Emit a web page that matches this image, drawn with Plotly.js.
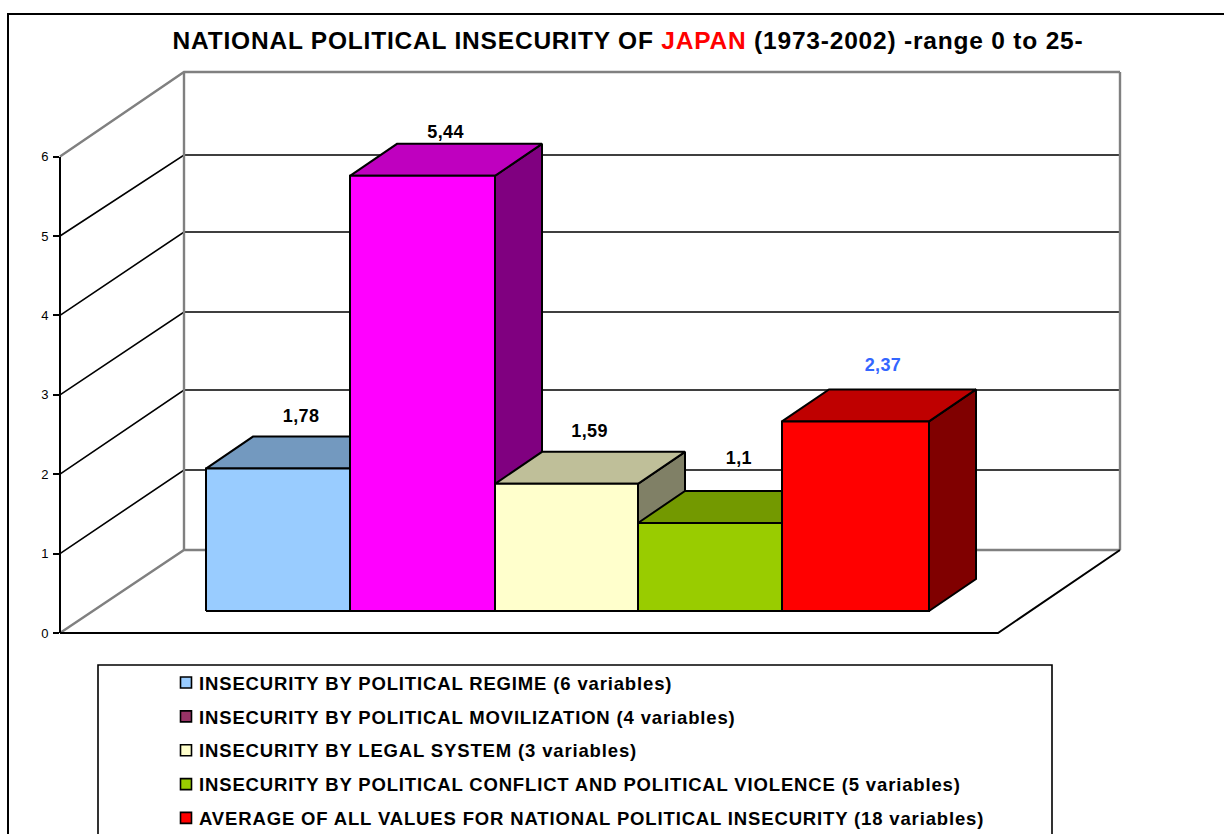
<!DOCTYPE html>
<html>
<head>
<meta charset="utf-8">
<script src="https://cdn.plot.ly/plotly-3.0.1.min.js"></script>
<style>
html,body{margin:0;padding:0;background:#fff;overflow:hidden}
#chart{width:1224px;height:834px}
.gtitle{letter-spacing:0.8px}
.legendtext{letter-spacing:0.85px}
.textpoint text{letter-spacing:0.4px}
.legend .legendsymbols{transform:translate(7px,0)}
</style>
</head>
<body>
<div id="chart"></div>
<script>
// ---- data ----
var categories = [
  "INSECURITY BY POLITICAL REGIME (6 variables)",
  "INSECURITY BY POLITICAL MOVILIZATION (4 variables)",
  "INSECURITY BY LEGAL SYSTEM (3 variables)",
  "INSECURITY BY POLITICAL CONFLICT AND POLITICAL VIOLENCE (5 variables)",
  "AVERAGE OF ALL VALUES FOR NATIONAL POLITICAL INSECURITY (18 variables)"
];
var values = [1.78, 5.44, 1.59, 1.1, 2.37];
var axisTicks = [0, 1, 2, 3, 4, 5, 6];

// ---- style ----
var barColors = [[153,204,255],[255,0,255],[255,255,204],[153,204,0],[255,0,0]];
var legendColors = ["#99ccff","#993366","#ffffcc","#99cc00","#ff0000"];
var labelColors = ["#000","#000","#000","#000","#3366ff"];
var labelLift = [0.24, 0.13, 0.24, 0.39, 0.29];
var labelSlide = [0.16, 0.16, 0.16, 0.2, 0.19];
var FONT = "Liberation Sans, Arial, sans-serif";

// ---- geometry (page is 1224x834, margins 0) ----
var W = 1224, H = 834;
var xUnit = 144.5, yUnit = 80, x0px = 206, y0px = 611;
var barEdgesPx = [206, 350, 495, 638, 782, 929];
var wallRowsPx = [550, 470, 390, 312, 232, 155, 72];
var barEdges = barEdgesPx.map(function(p){return (p-x0px)/xUnit;});
var wallRows = wallRowsPx.map(function(p){return (y0px-p)/yUnit;});
var barDx = 47/xUnit, barDy = 32/yUnit;          // bar depth
var wallDx = 124/xUnit;                          // floor depth
var floorX = (60-x0px)/xUnit, floorY = (y0px-633)/yUnit, floorW = 938/xUnit, wallW = 936/xUnit;
var tickUnit = 79.4/yUnit;
var px = function(x){return x/W;}, py = function(y){return 1-y/H;};

function shade(c,f){return "rgb("+c.map(function(v){return Math.round(v*f);}).join(",")+")";}
function poly(xs,ys,fill,lineColor,lineW){
  return {type:"scatter",mode:"lines",x:xs,y:ys,fill:fill?"toself":"none",fillcolor:fill||undefined,
    line:{color:lineColor,width:lineW,shape:"linear"},hoverinfo:"skip",showlegend:false,xaxis:"x",yaxis:"y"};
}

var traces = [];
var wallTop = wallRows[6];
var wx = floorX + wallDx, wy = wallRows[0];

// horizontal grid on the back wall + diagonal on the side wall
axisTicks.forEach(function(t){
  var edge = (t===0||t===6);
  var c = edge ? "#808080" : "#000";
  var w = edge ? 2.4 : 1.6;
  traces.push(poly([floorX, wx, wx+wallW],[floorY + t*tickUnit, wallRows[t], wallRows[t]],null,c,w));
});
// wall verticals
traces.push(poly([wx,wx],[wy,wallTop],null,"#808080",2.4));
traces.push(poly([wx+wallW,wx+wallW],[wy,wallTop],null,"#808080",2.4));
// floor front + right edges
traces.push(poly([floorX,floorX+floorW,wx+wallW],[floorY,floorY,wy],null,"#000",2));

// bars: side, top, front, left to right
values.forEach(function(v,i){
  var c = barColors[i], a=barEdges[i], b=barEdges[i+1];
  traces.push(poly([b,b+barDx,b+barDx,b,b],[0,barDy,v+barDy,v,0],shade(c,0.5),"#000",2));
  traces.push(poly([a,a+barDx,b+barDx,b,a],[v,v+barDy,v+barDy,v,v],shade(c,0.75),"#000",2));
  traces.push(poly([a,b,b,a,a],[0,0,v,v,0],"rgb("+c.join(",")+")","#000",2));
});

// value labels
traces.push({type:"scatter",mode:"text",
  x:values.map(function(v,i){return (barEdges[i]+barEdges[i+1])/2+labelSlide[i];}),
  y:values.map(function(v,i){return v+barDy+labelLift[i];}),
  text:values.map(function(v){return String(v).replace(".",",");}),
  textposition:"middle center",
  textfont:{family:FONT,size:18,weight:700,color:labelColors},
  hoverinfo:"skip",showlegend:false,xaxis:"x",yaxis:"y"});

// legend entries
categories.forEach(function(name,i){
  traces.push({type:"scatter",mode:"markers",x:[null],y:[null],name:name,legendgroup:"g"+i,
    marker:{symbol:"square",size:11,color:legendColors[i],line:{color:"#000",width:1.6}},
    xaxis:"x",yaxis:"y"});
});

// trace for the scaled left axis
traces.push({type:"scatter",mode:"lines",x:[null],y:[null],xaxis:"x",yaxis:"y2",showlegend:false,hoverinfo:"skip"});

var layout = {
  width:W,height:H,margin:{l:0,r:0,t:0,b:0,autoexpand:false},paper_bgcolor:"#fff",plot_bgcolor:"rgba(0,0,0,0)",
  showlegend:true,hovermode:false,
  title:{
    text:'NATIONAL POLITICAL INSECURITY OF <span style="color:#ff0000">JAPAN</span> (1973-2002) -range 0 to 25-',
    x:px(628),xanchor:"center",y:py(40),yanchor:"middle",automargin:false,
    font:{family:FONT,size:24.5,weight:700,color:"#000"}
  },
  xaxis:{domain:[0,1],range:[-x0px/xUnit,(W-x0px)/xUnit],visible:false,fixedrange:true},
  yaxis:{domain:[0,1],range:[(y0px-H)/yUnit,y0px/yUnit],visible:false,fixedrange:true},
  yaxis2:{domain:[py(633),py(633-79.4*6)],range:[0,6],anchor:"free",position:px(60),side:"left",
    tickvals:axisTicks,ticks:"outside",ticklen:6,tickwidth:1.6,tickcolor:"#000",ticklabelstandoff:2,
    showline:true,linecolor:"#000",linewidth:2,showgrid:false,zeroline:false,automargin:false,
    tickfont:{family:FONT,size:13,color:"#000"},fixedrange:true},
  legend:{x:px(159),y:py(664),xanchor:"left",yanchor:"top",bgcolor:"rgba(0,0,0,0)",
    borderwidth:0,font:{family:FONT,size:18.5,weight:700,color:"#000"},
    traceorder:"grouped",tracegroupgap:6.8,itemclick:false,itemdoubleclick:false},
  shapes:[
    {type:"path",xref:"paper",yref:"paper",layer:"below",line:{color:"#000",width:2},
     path:"M "+px(8)+" "+py(850)+" L "+px(8)+" "+py(14)+" L "+px(1240)+" "+py(14)},
    {type:"rect",xref:"paper",yref:"paper",layer:"below",line:{color:"#000",width:1.6},fillcolor:"#fff",
     x0:px(98),x1:px(1052),y0:py(860),y1:py(665)}
  ]
};
Plotly.newPlot("chart",traces,layout,{displayModeBar:false,responsive:false});
</script>
</body>
</html>
